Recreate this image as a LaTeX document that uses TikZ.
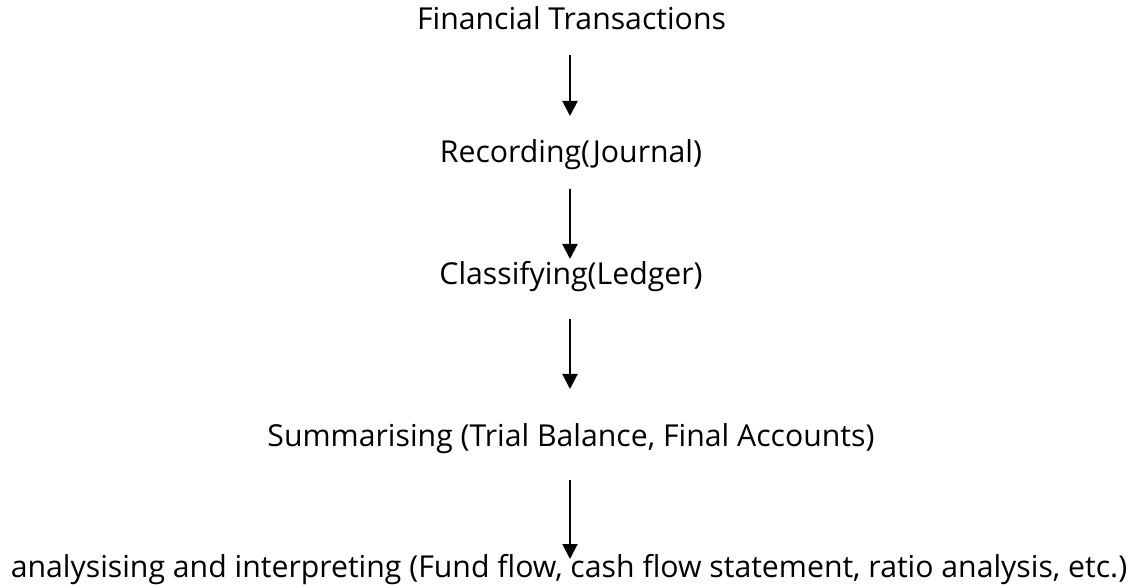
\documentclass[tikz,border=0pt]{standalone}
\usepackage{fontspec}
\setmainfont{Open Sans}
\usetikzlibrary{arrows.meta}

\begin{document}
\begin{tikzpicture}[
            > = {Triangle[width=0.3cm,length=0.3cm]}, % arrow head style
            line width = 0.04cm, % line style
            stage/.style = {anchor=base, inner sep=0pt, text height=0.43cm, text depth=0.12cm,
                            font=\fontsize{17.2}{20}\selectfont}
        ]
\useasboundingbox (0,0) rectangle (22.68,-11.7);

\node[stage] (fin) at (11.43,-0.60) {Financial Transactions};
\node[stage] (rec) at (11.42,-3.26) {Recording(Journal)};
\node[stage] (cla) at (11.42,-5.70) {Classifying(Ledger)};
\node[stage] (sum) at (11.42,-8.94) {Summarising (Trial Balance, Final Accounts)};
\node[stage] (ana) at (11.38,-11.56) {analysising and interpreting (Fund flow, cash flow statement, ratio analysis, etc.)};

 \path [->] (fin.south -| 11.4,0) edge[shorten <=0.36cm, shorten >=0.49cm] (rec.north -| 11.4,0);
 \path [->] (rec.south -| 11.4,0) edge[shorten <=0.38cm, shorten >=0.07cm] (cla.north -| 11.4,0);
 \path [->] (cla.south -| 11.4,0) edge[shorten <=0.54cm, shorten >=0.71cm] (sum.north -| 11.4,0);
 \path [->] (sum.south -| 11.4,0) edge[shorten <=0.52cm, shorten >=-0.07cm] (ana.north -| 11.4,0);
\end{tikzpicture}
\end{document}
